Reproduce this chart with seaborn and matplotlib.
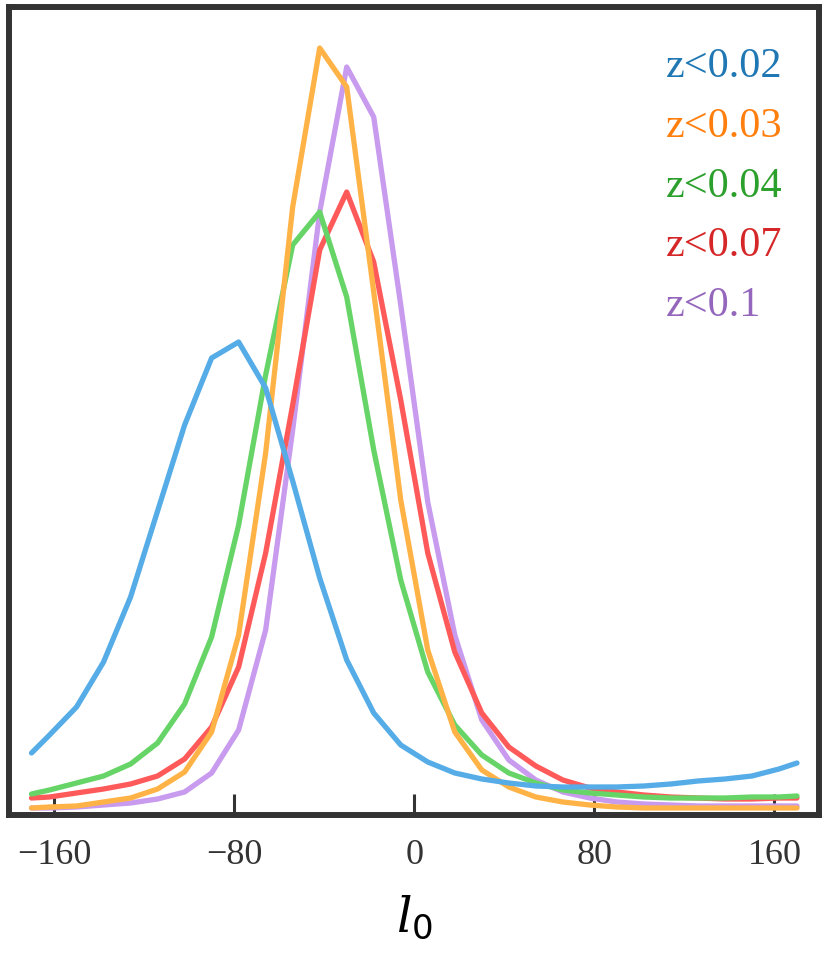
import pandas as pd
import matplotlib
matplotlib.use("Agg")
import matplotlib.pyplot as plt
import seaborn as sns

# bin centres of l0 (deg)
l0 = [-170, -162, -150, -138, -126, -114, -102, -90, -78, -66, -54, -42, -30, -18, -6,
      6, 18, 30, 42, 54, 66, 78, 90, 102, 114, 126, 138, 150, 162, 170]

z002 = [6.2, 8.0, 10.8, 15.3, 21.8, 30.4, 39.0, 45.7, 47.3, 42.7, 33.4, 23.7, 15.5, 10.2, 7.0,
        5.3, 4.2, 3.6, 3.2, 2.9, 2.8, 2.8, 2.8, 2.9, 3.1, 3.4, 3.6, 3.9, 4.6, 5.2]
z003 = [0.7, 0.8, 0.9, 1.3, 1.7, 2.6, 4.3, 8.3, 18.0, 36.2, 60.8, 76.7, 72.8, 52.3, 31.5,
        16.5, 8.3, 4.5, 2.8, 1.8, 1.3, 1.0, 0.8, 0.7, 0.7, 0.7, 0.7, 0.7, 0.7, 0.7]
z004 = [2.1, 2.5, 3.2, 3.9, 5.1, 7.2, 11.1, 17.8, 29.0, 44.0, 57.0, 60.3, 51.8, 36.5, 23.5,
        14.3, 9.0, 6.0, 4.2, 3.2, 2.5, 2.2, 2.0, 1.8, 1.7, 1.7, 1.7, 1.8, 1.8, 1.9]
z007 = [1.7, 1.8, 2.2, 2.6, 3.1, 3.9, 5.6, 8.8, 14.8, 26.2, 41.0, 56.5, 62.3, 55.3, 41.5,
        26.2, 16.3, 10.2, 6.8, 4.9, 3.5, 2.7, 2.3, 2.0, 1.8, 1.7, 1.6, 1.6, 1.7, 1.7]
z010 = [0.7, 0.7, 0.8, 1.0, 1.2, 1.6, 2.3, 4.2, 8.5, 18.5, 38.5, 60.3, 74.8, 69.8, 51.0,
        31.3, 18.0, 9.5, 5.5, 3.5, 2.3, 1.7, 1.3, 1.1, 1.0, 0.9, 0.9, 0.9, 0.9, 0.9]

labels = ["z<0.02", "z<0.03", "z<0.04", "z<0.07", "z<0.1"]
series = [z002, z003, z004, z007, z010]
line_colors = ["#55ace6", "#ffb347", "#66d466", "#ff5a5a", "#c89bee"]
text_colors = ["#1f77b4", "#ff7f0e", "#2ca02c", "#d62728", "#9467bd"]

xticks = [-160, -80, 0, 80, 160]

df = pd.concat([pd.DataFrame({"l0": l0, "n": s, "z": lab}) for s, lab in zip(series, labels)])

sns.set_theme(style="white")
plt.rcParams["font.family"] = ["Liberation Serif", "DejaVu Serif"]
plt.rcParams["mathtext.fontset"] = "custom"
plt.rcParams["mathtext.it"] = "DejaVu Serif:italic"
plt.rcParams["mathtext.rm"] = "DejaVu Sans"

fig = plt.figure(figsize=(8.29, 9.6), dpi=100)
ax = fig.add_axes([9 / 829, 1 - 815 / 960, 810.5 / 829, 808 / 960])

# draw the widest z bin first so z<0.02 ends on top
sns.lineplot(data=df, x="l0", y="n", hue="z", hue_order=labels[::-1],
             palette=dict(zip(labels, line_colors)), linewidth=3.8,
             legend=False, ax=ax)

ax.set_xlim(-180, 180)
ax.set_ylim(0, 80.8)
ax.set_xticks(xticks)
ax.set_xticklabels([str(t).replace("-", "\u2212") for t in xticks])
ax.set_yticks([])
ax.set_ylabel("")
ax.set_xlabel("$l_0$", fontsize=35, labelpad=16, color="black")
ax.tick_params(axis="x", direction="in", length=15, width=2.2, color="#333333",
               labelsize=26, labelcolor="#333333", pad=17, bottom=True)

for sp in ax.spines.values():
    sp.set_visible(True)
    sp.set_color("#333333")
    sp.set_linewidth(4.3)

for i, (lab, c) in enumerate(zip(labels, text_colors)):
    ax.text(0.8106, 0.9134 - i * 0.0740, lab, transform=ax.transAxes,
            color=c, fontsize=30.5, ha="left", va="baseline")

fig.savefig("out.png", dpi=100)
